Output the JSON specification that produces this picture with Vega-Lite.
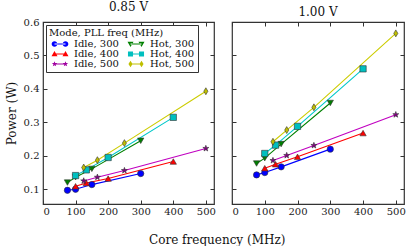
{
  "$schema": "https://vega.github.io/schema/vega-lite/v6.json",
  "padding": {"left": 4, "top": 0, "right": 5, "bottom": 0},
  "background": "white",
  "config": {
    "font": "DejaVu Serif",
    "view": {"stroke": "#333", "strokeWidth": 1.2},
    "axis": {"grid": false, "labelFont": "DejaVu Serif", "titleFont": "DejaVu Serif", "labelFontSize": 10, "titleFontSize": 12, "titleFontWeight": "normal", "labelColor": "#222", "titleColor": "#111", "domain": false, "tickColor": "#333", "tickSize": -4, "labelPadding": 8},
    "title": {"font": "DejaVu Serif", "fontSize": 12, "fontWeight": "normal", "offset": 3, "color": "#111"},
    "legend": {"labelFont": "DejaVu Serif", "titleFont": "DejaVu Serif"}
  },
  "data": {"values": [
    {"panel": "0.85 V", "series": "Idle, 300", "freq": 75, "power": 0.097},
    {"panel": "0.85 V", "series": "Idle, 300", "freq": 100, "power": 0.100},
    {"panel": "0.85 V", "series": "Idle, 300", "freq": 150, "power": 0.114},
    {"panel": "0.85 V", "series": "Idle, 300", "freq": 300, "power": 0.147},
    {"panel": "0.85 V", "series": "Idle, 400", "freq": 100, "power": 0.109},
    {"panel": "0.85 V", "series": "Idle, 400", "freq": 133, "power": 0.119},
    {"panel": "0.85 V", "series": "Idle, 400", "freq": 200, "power": 0.132},
    {"panel": "0.85 V", "series": "Idle, 400", "freq": 400, "power": 0.183},
    {"panel": "0.85 V", "series": "Idle, 500", "freq": 125, "power": 0.125},
    {"panel": "0.85 V", "series": "Idle, 500", "freq": 167, "power": 0.136},
    {"panel": "0.85 V", "series": "Idle, 500", "freq": 250, "power": 0.156},
    {"panel": "0.85 V", "series": "Idle, 500", "freq": 500, "power": 0.222},
    {"panel": "0.85 V", "series": "Hot, 300", "freq": 75, "power": 0.120},
    {"panel": "0.85 V", "series": "Hot, 300", "freq": 100, "power": 0.136},
    {"panel": "0.85 V", "series": "Hot, 300", "freq": 150, "power": 0.161},
    {"panel": "0.85 V", "series": "Hot, 300", "freq": 300, "power": 0.245},
    {"panel": "0.85 V", "series": "Hot, 400", "freq": 100, "power": 0.141},
    {"panel": "0.85 V", "series": "Hot, 400", "freq": 133, "power": 0.158},
    {"panel": "0.85 V", "series": "Hot, 400", "freq": 200, "power": 0.195},
    {"panel": "0.85 V", "series": "Hot, 400", "freq": 400, "power": 0.315},
    {"panel": "0.85 V", "series": "Hot, 500", "freq": 125, "power": 0.165},
    {"panel": "0.85 V", "series": "Hot, 500", "freq": 167, "power": 0.187},
    {"panel": "0.85 V", "series": "Hot, 500", "freq": 250, "power": 0.238},
    {"panel": "0.85 V", "series": "Hot, 500", "freq": 500, "power": 0.393},
    {"panel": "1.00 V", "series": "Idle, 300", "freq": 75, "power": 0.143},
    {"panel": "1.00 V", "series": "Idle, 300", "freq": 100, "power": 0.150},
    {"panel": "1.00 V", "series": "Idle, 300", "freq": 150, "power": 0.167},
    {"panel": "1.00 V", "series": "Idle, 300", "freq": 300, "power": 0.220},
    {"panel": "1.00 V", "series": "Idle, 400", "freq": 100, "power": 0.163},
    {"panel": "1.00 V", "series": "Idle, 400", "freq": 133, "power": 0.175},
    {"panel": "1.00 V", "series": "Idle, 400", "freq": 200, "power": 0.197},
    {"panel": "1.00 V", "series": "Idle, 400", "freq": 400, "power": 0.268},
    {"panel": "1.00 V", "series": "Idle, 500", "freq": 125, "power": 0.186},
    {"panel": "1.00 V", "series": "Idle, 500", "freq": 167, "power": 0.201},
    {"panel": "1.00 V", "series": "Idle, 500", "freq": 250, "power": 0.231},
    {"panel": "1.00 V", "series": "Idle, 500", "freq": 500, "power": 0.323},
    {"panel": "1.00 V", "series": "Hot, 300", "freq": 75, "power": 0.177},
    {"panel": "1.00 V", "series": "Hot, 300", "freq": 100, "power": 0.193},
    {"panel": "1.00 V", "series": "Hot, 300", "freq": 150, "power": 0.235},
    {"panel": "1.00 V", "series": "Hot, 300", "freq": 300, "power": 0.358},
    {"panel": "1.00 V", "series": "Hot, 400", "freq": 100, "power": 0.207},
    {"panel": "1.00 V", "series": "Hot, 400", "freq": 133, "power": 0.232},
    {"panel": "1.00 V", "series": "Hot, 400", "freq": 200, "power": 0.288},
    {"panel": "1.00 V", "series": "Hot, 400", "freq": 400, "power": 0.460},
    {"panel": "1.00 V", "series": "Hot, 500", "freq": 125, "power": 0.242},
    {"panel": "1.00 V", "series": "Hot, 500", "freq": 167, "power": 0.277},
    {"panel": "1.00 V", "series": "Hot, 500", "freq": 250, "power": 0.345},
    {"panel": "1.00 V", "series": "Hot, 500", "freq": 500, "power": 0.566}
  ]},
  "title": {"text": "Core frequency (MHz)", "orient": "bottom", "anchor": "middle", "fontSize": 12, "offset": 18, "dx": 12},
  "spacing": 13,
  "resolve": {"legend": {"color": "independent", "shape": "independent"}},
  "hconcat": [
    {
      "title": "0.85 V",
      "width": 171,
      "height": 182,
      "transform": [{"filter": "datum.panel === '0.85 V'"}],
      "resolve": {"scale": {"color": "independent", "shape": "independent"}, "axis": {"x": "independent", "y": "independent"}},
      "layer": [
        {"mark": {"type": "line", "strokeWidth": 1.1},
         "encoding": {
          "x": {"field": "freq", "type": "quantitative", "scale": {"domain": [0, 525], "nice": false}, "axis": {"values": [0, 100, 200, 300, 400, 500], "title": null, "labelPadding": 6}},
          "y": {"field": "power", "type": "quantitative", "scale": {"domain": [0.056, 0.6], "nice": false, "zero": false}, "axis": {"values": [0.1, 0.2, 0.3, 0.4, 0.5, 0.6], "format": ".1f", "title": "Power (W)", "titlePadding": 5}},
          "color": {"field": "series", "type": "nominal", "legend": null, "scale": {"domain": ["Idle, 300", "Idle, 400", "Idle, 500", "Hot, 300", "Hot, 400", "Hot, 500"], "range": ["#0000ff", "#ff0000", "#c000c0", "#008000", "#00c8c8", "#cccc00"]}}}},
        {"mark": {"type": "point", "filled": true, "stroke": "#333", "strokeWidth": 0.6, "opacity": 1, "size": 40},
         "encoding": {
          "x": {"field": "freq", "type": "quantitative", "axis": null},
          "y": {"field": "power", "type": "quantitative", "axis": null},
          "color": {"field": "series", "type": "nominal", "legend": null, "scale": {"domain": ["Idle, 300", "Idle, 400", "Idle, 500", "Hot, 300", "Hot, 400", "Hot, 500"], "range": ["#0000ff", "#ff0000", "#800080", "#007f00", "#00bfbf", "#bfbf00"]}},
          "shape": {"field": "series", "type": "nominal", "legend": null, "scale": {"domain": ["Idle, 300", "Idle, 400", "Idle, 500", "Hot, 300", "Hot, 400", "Hot, 500"], "range": ["circle", "triangle-up", "M0,-1L0.24,-0.33L0.95,-0.31L0.38,0.12L0.59,0.81L0,0.4L-0.59,0.81L-0.38,0.12L-0.95,-0.31L-0.24,-0.33Z", "triangle-down", "square", "M0,-1.1L0.65,0L0,1.1L-0.65,0Z"]}}
        }},
        {"transform": [{"filter": "false"}],
         "mark": {"type": "point", "filled": true, "opacity": 1, "size": 40},
         "encoding": {
          "x": {"field": "freq", "type": "quantitative", "axis": {"orient": "top", "values": [0, 100, 200, 300, 400, 500], "labels": false, "title": null}},
          "y": {"field": "power", "type": "quantitative", "axis": {"orient": "right", "values": [0.1, 0.2, 0.3, 0.4, 0.5, 0.6], "labels": false, "title": null}},
          "color": {"field": "series", "type": "nominal", "scale": {"domain": ["Idle, 300", "Idle, 400", "Idle, 500", "Hot, 300", "Hot, 400", "Hot, 500"], "range": ["#0000ff", "#ff0000", "#a000a0", "#008000", "#00bfbf", "#bfbf00"]},
            "legend": {"title": "Mode, PLL freq (MHz)", "orient": "top-left", "columns": 2, "offset": 3, "padding": 3, "strokeColor": "#333", "fillColor": "white", "titleFontSize": 10, "titleFontWeight": "normal", "titleColor": "#111", "labelFontSize": 10, "labelColor": "#111", "symbolSize": 40, "rowPadding": 0, "columnPadding": 6, "titlePadding": 1, "symbolStrokeWidth": 0, "symbolOffset": 6, "labelOffset": 9}},
          "shape": {"field": "series", "type": "nominal", "scale": {"domain": ["Idle, 300", "Idle, 400", "Idle, 500", "Hot, 300", "Hot, 400", "Hot, 500"], "range": [
            "M-2.64,0A0.9,0.9 0 1,0 -0.84,0A0.9,0.9 0 1,0 -2.64,0ZM0.84,0A0.9,0.9 0 1,0 2.64,0A0.9,0.9 0 1,0 0.84,0ZM-1.74,-0.12L1.74,-0.12L1.74,0.12L-1.74,0.12Z",
            "M-1.74,-0.95L-0.79,0.7L-2.69,0.7ZM1.74,-0.95L2.69,0.7L0.79,0.7ZM-1.74,-0.12L1.74,-0.12L1.74,0.12L-1.74,0.12Z",
            "M-1.74,-0.9L-1.52,-0.3L-0.88,-0.28L-1.4,0.11L-1.21,0.73L-1.74,0.36L-2.27,0.73L-2.08,0.11L-2.6,-0.28L-1.96,-0.3ZM1.74,-0.9L1.96,-0.3L2.6,-0.28L2.08,0.11L2.27,0.73L1.74,0.36L1.21,0.73L1.4,0.11L0.88,-0.28L1.52,-0.3ZM-1.74,-0.12L1.74,-0.12L1.74,0.12L-1.74,0.12Z",
            "M-1.74,0.95L-0.79,-0.7L-2.69,-0.7ZM1.74,0.95L2.69,-0.7L0.79,-0.7ZM-1.74,-0.12L1.74,-0.12L1.74,0.12L-1.74,0.12Z",
            "M-2.54,-0.8h1.6v1.6h-1.6ZM0.94,-0.8h1.6v1.6h-1.6ZM-1.74,-0.12L1.74,-0.12L1.74,0.12L-1.74,0.12Z",
            "M-1.74,-1.05L-1.09,0L-1.74,1.05L-2.39,0ZM1.74,-1.05L2.39,0L1.74,1.05L1.09,0ZM-1.74,-0.12L1.74,-0.12L1.74,0.12L-1.74,0.12Z"]},
            "legend": {"title": "Mode, PLL freq (MHz)", "orient": "top-left", "columns": 2, "offset": 3, "padding": 3, "strokeColor": "#333", "fillColor": "white", "titleFontSize": 10, "titleFontWeight": "normal", "titleColor": "#111", "labelFontSize": 10, "labelColor": "#111", "symbolSize": 40, "rowPadding": 0, "columnPadding": 6, "titlePadding": 1, "symbolStrokeWidth": 0, "symbolOffset": 6, "labelOffset": 9}}
        }}
      ]
    },
    {
      "title": "1.00 V",
      "width": 172,
      "height": 182,
      "transform": [{"filter": "datum.panel === '1.00 V'"}],
      "resolve": {"scale": {"color": "independent", "shape": "independent"}, "axis": {"x": "independent", "y": "independent"}},
      "layer": [
        {"mark": {"type": "line", "strokeWidth": 1.1},
         "encoding": {
          "x": {"field": "freq", "type": "quantitative", "scale": {"domain": [0, 525], "nice": false}, "axis": {"values": [0, 100, 200, 300, 400, 500], "title": null, "labelPadding": 6}},
          "y": {"field": "power", "type": "quantitative", "scale": {"domain": [0.056, 0.6], "nice": false, "zero": false}, "axis": {"values": [0.1, 0.2, 0.3, 0.4, 0.5, 0.6], "labels": false, "title": null}},
          "color": {"field": "series", "type": "nominal", "legend": null, "scale": {"domain": ["Idle, 300", "Idle, 400", "Idle, 500", "Hot, 300", "Hot, 400", "Hot, 500"], "range": ["#0000ff", "#ff0000", "#c000c0", "#008000", "#00c8c8", "#cccc00"]}}}},
        {"mark": {"type": "point", "filled": true, "stroke": "#333", "strokeWidth": 0.6, "opacity": 1, "size": 40},
         "encoding": {
          "x": {"field": "freq", "type": "quantitative", "axis": {"orient": "top", "values": [0, 100, 200, 300, 400, 500], "labels": false, "title": null}},
          "y": {"field": "power", "type": "quantitative", "axis": {"orient": "right", "values": [0.1, 0.2, 0.3, 0.4, 0.5, 0.6], "labels": false, "title": null}},
          "color": {"field": "series", "type": "nominal", "legend": null, "scale": {"domain": ["Idle, 300", "Idle, 400", "Idle, 500", "Hot, 300", "Hot, 400", "Hot, 500"], "range": ["#0000ff", "#ff0000", "#800080", "#007f00", "#00bfbf", "#bfbf00"]}},
          "shape": {"field": "series", "type": "nominal", "legend": null, "scale": {"domain": ["Idle, 300", "Idle, 400", "Idle, 500", "Hot, 300", "Hot, 400", "Hot, 500"], "range": ["circle", "triangle-up", "M0,-1L0.24,-0.33L0.95,-0.31L0.38,0.12L0.59,0.81L0,0.4L-0.59,0.81L-0.38,0.12L-0.95,-0.31L-0.24,-0.33Z", "triangle-down", "square", "M0,-1.1L0.65,0L0,1.1L-0.65,0Z"]}}
        }}
      ]
    }
  ]
}
